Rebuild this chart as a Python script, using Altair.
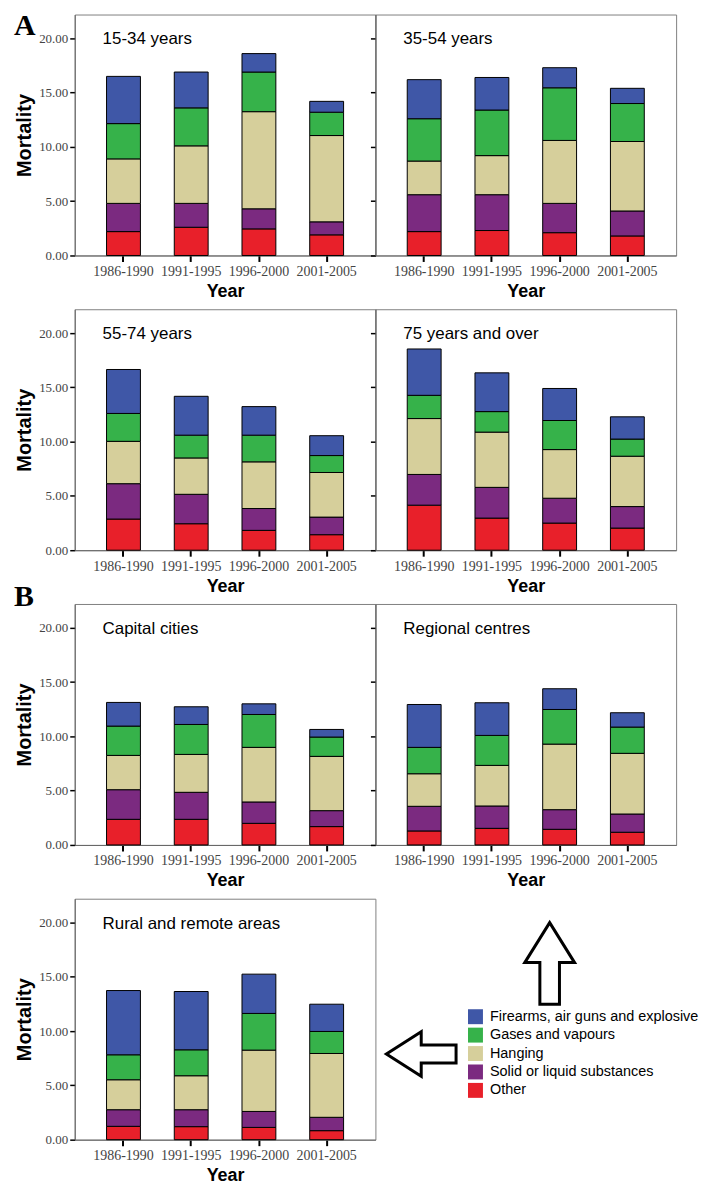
import altair as alt
import pandas as pd

periods = ["1986-1990", "1991-1995", "1996-2000", "2001-2005"]
methods = ["Firearms, air guns and explosive", "Gases and vapours", "Hanging",
           "Solid or liquid substances", "Other"]
colors = ["#3f57a7", "#36b24a", "#d6cf9b", "#7b2a80", "#e8202a"]

age_15_34 = {
    "Other": [2.2, 2.6, 2.45, 1.9],
    "Solid or liquid substances": [2.6, 2.2, 1.85, 1.2],
    "Hanging": [4.1, 5.3, 8.95, 7.95],
    "Gases and vapours": [3.25, 3.5, 3.65, 2.15],
    "Firearms, air guns and explosive": [4.35, 3.3, 1.7, 1.0],
}
age_35_54 = {
    "Other": [2.2, 2.3, 2.1, 1.8],
    "Solid or liquid substances": [3.4, 3.3, 2.7, 2.3],
    "Hanging": [3.1, 3.6, 5.8, 6.4],
    "Gases and vapours": [3.9, 4.2, 4.85, 3.5],
    "Firearms, air guns and explosive": [3.6, 3.0, 1.85, 1.4],
}
age_55_74 = {
    "Other": [2.87, 2.44, 1.83, 1.43],
    "Solid or liquid substances": [3.26, 2.71, 2.01, 1.62],
    "Hanging": [3.9, 3.35, 4.3, 4.11],
    "Gases and vapours": [2.57, 2.1, 2.46, 1.56],
    "Firearms, air guns and explosive": [4.05, 3.58, 2.63, 1.83],
}
age_75_over = {
    "Other": [4.15, 2.96, 2.5, 2.04],
    "Solid or liquid substances": [2.83, 2.83, 2.29, 1.98],
    "Hanging": [5.15, 5.09, 4.48, 4.64],
    "Gases and vapours": [2.14, 1.89, 2.68, 1.58],
    "Firearms, air guns and explosive": [4.27, 3.57, 2.95, 2.05],
}
capital_cities = {
    "Other": [2.36, 2.36, 1.99, 1.69],
    "Solid or liquid substances": [2.73, 2.49, 1.97, 1.47],
    "Hanging": [3.16, 3.49, 5.03, 5.0],
    "Gases and vapours": [2.7, 2.76, 3.03, 1.78],
    "Firearms, air guns and explosive": [2.18, 1.63, 0.98, 0.7],
}
regional_centres = {
    "Other": [1.29, 1.53, 1.44, 1.17],
    "Solid or liquid substances": [2.27, 2.06, 1.81, 1.68],
    "Hanging": [3.0, 3.74, 6.04, 5.59],
    "Gases and vapours": [2.43, 2.76, 3.19, 2.42],
    "Firearms, air guns and explosive": [3.95, 3.01, 1.91, 1.32],
}
rural_remote = {
    "Other": [1.23, 1.2, 1.13, 0.83],
    "Solid or liquid substances": [1.53, 1.56, 1.47, 1.23],
    "Hanging": [2.76, 3.13, 5.65, 5.88],
    "Gases and vapours": [2.3, 2.39, 3.38, 2.03],
    "Firearms, air guns and explosive": [5.92, 5.37, 3.62, 2.51],
}

stack_order = list(reversed(methods))  # bottom of stack first

W, H = 302, 242

legend = alt.Legend(
    title=None, orient="none", legendX=395, legendY=999,
    symbolType="square", symbolSize=225, symbolStrokeWidth=0,
    labelFont="Liberation Sans", labelFontSize=14.5, labelColor="black",
    labelLimit=0, rowPadding=2.5, padding=0, labelOffset=7,
)


def make_df(values):
    rows = []
    for i, m in enumerate(stack_order):
        for p, v in zip(periods, values[m]):
            rows.append({"period": p, "method": m, "value": v, "ord": i})
    return pd.DataFrame(rows)


def panel(title, values, left, letter=None):
    df = make_df(values)
    yaxis_kw = dict(values=[0, 5, 10, 15, 20], format=".2f", labels=left,
                    tickSize=5, tickWidth=1.5, labelPadding=2, titlePadding=4,
                    titleFontSize=20)
    bars = alt.Chart(df).mark_bar(stroke="black", strokeWidth=1).encode(
        x=alt.X("period:N", sort=periods,
                scale=alt.Scale(paddingInner=0.5, paddingOuter=0.47),
                axis=alt.Axis(title="Year", labelAngle=0, tickSize=6, tickWidth=2,
                              labelPadding=3, titlePadding=4, labelFontSize=14)),
        y=alt.Y("value:Q", stack="zero", title=None if not left else "Mortality",
                scale=alt.Scale(domain=[0, 22.2], nice=False),
                axis=alt.Axis(**yaxis_kw)),
        color=alt.Color("method:N", scale=alt.Scale(domain=methods, range=colors),
                        legend=legend),
        order=alt.Order("ord:Q"),
    )
    label = alt.Chart(pd.DataFrame({"t": [title]})).mark_text(
        align="left", baseline="middle", font="Liberation Sans", fontSize=17,
        color="black").encode(text="t:N", x=alt.value(28), y=alt.value(25))
    layers = [bars, label]
    if letter:
        lt = alt.Chart(pd.DataFrame({"t": [letter]})).mark_text(
            align="left", baseline="top", font="Liberation Serif",
            fontSize=30, fontWeight="bold", color="black").encode(
            text="t:N", x=alt.value(-61), y=alt.value(-3 if letter == "A" else -22))
        layers.append(lt)
    return alt.layer(*layers).properties(width=W, height=H)


UP_PATH = "M0,-1 L0.61,-0.02 L0.24,-0.02 L0.24,1 L-0.24,1 L-0.24,-0.02 L-0.61,-0.02 Z"
LEFT_PATH = "M-1,0 L0,-0.64 L0,-0.26 L1,-0.26 L1,0.26 L0,0.26 L0,0.64 Z"

one = pd.DataFrame({"k": [0]})
up_arrow = alt.Chart(one).mark_point(
    shape=UP_PATH, size=6724, filled=False, stroke="black", strokeWidth=3, opacity=1
).encode(x=alt.value(175), y=alt.value(65))
left_arrow = alt.Chart(one).mark_point(
    shape=LEFT_PATH, size=4900, filled=False, stroke="black", strokeWidth=3, opacity=1
).encode(x=alt.value(46), y=alt.value(156))
arrows = alt.layer(up_arrow, left_arrow).properties(
    width=W, height=H, view=alt.ViewBackground(stroke="transparent"))

chart = alt.concat(
    panel("15-34 years", age_15_34, True, "A"),
    panel("35-54 years", age_35_54, False),
    panel("55-74 years", age_55_74, True),
    panel("75 years and over", age_75_over, False),
    panel("Capital cities", capital_cities, True, "B"),
    panel("Regional centres", regional_centres, False),
    panel("Rural and remote areas", rural_remote, True),
    arrows,
    columns=2, spacing=alt.RowColnumber(row=54, column=0), bounds="flush",
).properties(
    padding={"left": 5, "top": 0, "right": 5, "bottom": 2}
).configure_view(stroke="#808080", strokeWidth=1).configure_axis(
    labelFont="Liberation Serif", labelFontSize=13, labelColor="#444",
    titleFont="Liberation Sans", titleFontSize=18, titleFontWeight="bold",
    titleColor="black", tickColor="black", domainColor="#666", grid=False,
)

chart.save("out.html", embed_options={"renderer": "svg", "actions": False})
